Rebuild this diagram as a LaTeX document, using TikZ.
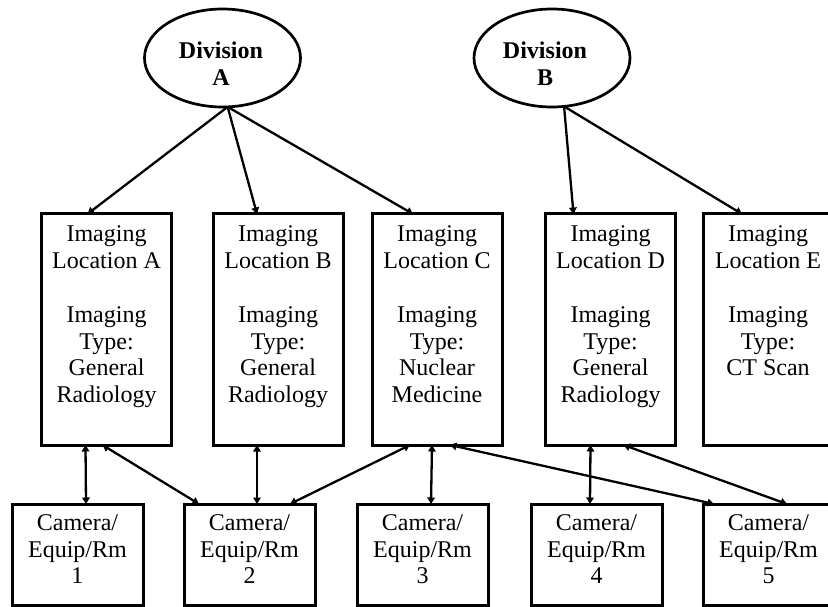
\documentclass[tikz,border=0pt]{standalone}
\usepackage{fontspec}
\setmainfont{Liberation Serif}
\usetikzlibrary{shapes.geometric,arrows.meta,calc}
\begin{document}
\begin{tikzpicture}[x=1pt,y=-1pt,
 locbox/.style={draw,line width=3pt,minimum width=130pt,minimum height=231pt,inner sep=0pt,outer sep=0pt},
 cambox/.style={draw,line width=3pt,minimum width=131pt,minimum height=101pt,inner sep=0pt,outer sep=0pt},
 divell/.style={draw,ellipse,line width=2.7pt,minimum width=156pt,minimum height=98pt,inner sep=0pt,outer sep=0pt},
 txt/.style={anchor=north,inner sep=0pt,align=center,font=\fontsize{24pt}{26.5pt}\selectfont},
 divtxt/.style={anchor=north,inner sep=0pt,align=center,font=\fontsize{24pt}{27pt}\selectfont\bfseries},
 link/.style={line width=2.3pt,-{Triangle[length=6.5pt,width=7.5pt]}},
 dlink/.style={line width=2.3pt,{Triangle[length=6.5pt,width=7.5pt]}-{Triangle[length=6.5pt,width=7.5pt]}}]
\clip (0,0) rectangle (828,607);
\fill[white] (0,0) rectangle (828,607);

% divisions
\node[divell] (divA) at (222.5,58) {};
\node[divtxt] (divAt) at (221,41.7) {Division\\A};
\node[divell] (divB) at (552,58) {};
\node[divtxt] (divBt) at (545,41.7) {Division\\B};

% imaging locations
\node[locbox] (la) at (106.5,329.5) {};
\node[locbox] (lb) at (278,329.5) {};
\node[locbox] (lc) at (437,329.5) {};
\node[locbox] (ld) at (610.5,329.5) {};
\node[locbox] (le) at (768,329.5) {};
\node[txt] (lat) at ($(la.north)+(0,11.7)$) {Imaging\\Location A\\[28pt]Imaging\\Type:\\General\\Radiology};
\node[txt] (lbt) at ($(lb.north)+(0,11.7)$) {Imaging\\Location B\\[28pt]Imaging\\Type:\\General\\Radiology};
\node[txt] (lct) at ($(lc.north)+(0,11.7)$) {Imaging\\Location C\\[28pt]Imaging\\Type:\\Nuclear\\Medicine};
\node[txt] (ldt) at ($(ld.north)+(0,11.7)$) {Imaging\\Location D\\[28pt]Imaging\\Type:\\General\\Radiology};
\node[txt] (let) at ($(le.north)+(0,11.7)$) {Imaging\\Location E\\[28pt]Imaging\\Type:\\CT Scan};

% cameras
\node[cambox] (c1) at (77.5,554.5) {};
\node[cambox] (c2) at (249.5,554.5) {};
\node[cambox] (c3) at (422.5,554.5) {};
\node[cambox] (c4) at (596.5,554.5) {};
\node[cambox] (c5) at (768.5,554.5) {};
\node[txt] (c1t) at ($(c1.north)+(0,10.8)$) {Camera/\\Equip/Rm\\1};
\node[txt] (c2t) at ($(c2.north)+(0,10.8)$) {Camera/\\Equip/Rm\\2};
\node[txt] (c3t) at ($(c3.north)+(0,10.8)$) {Camera/\\Equip/Rm\\3};
\node[txt] (c4t) at ($(c4.north)+(0,10.8)$) {Camera/\\Equip/Rm\\4};
\node[txt] (c5t) at ($(c5.north)+(0,10.8)$) {Camera/\\Equip/Rm\\5};

% division links
\draw[link] (divA.-84) -- ($(la.north west)+(46,0)$);
\draw[link] (divA.-84) -- ($(lb.north west)+(44,0)$);
\draw[link] (divA.-84) -- ($(lc.north west)+(41,0)$);
\draw[link] (divB.-76) -- ($(ld.north west)+(28,0)$);
\draw[link] (divB.-76) -- ($(le.north west)+(39,0)$);

% camera links
\draw[dlink] ($(la.south west)+(44,0)$) -- ($(c1.north west)+(74,0)$);
\draw[dlink] ($(la.south west)+(61,0)$) -- ($(c2.north west)+(15,0)$);
\draw[dlink] ($(lb.south west)+(44,0)$) -- ($(c2.north west)+(73,0)$);
\draw[dlink] ($(lc.south west)+(38,0)$) -- ($(c2.north west)+(106,0)$);
\draw[dlink] ($(lc.south west)+(60,0)$) -- ($(c3.north west)+(74,0)$);
\draw[dlink] ($(lc.south west)+(78,0)$) -- ($(c5.north west)+(11,0)$);
\draw[dlink] ($(ld.south west)+(45,0)$) -- ($(c4.north west)+(59,0)$);
\draw[dlink] ($(ld.south west)+(78,0)$) -- ($(c5.north west)+(84,0)$);
\end{tikzpicture}
\end{document}
